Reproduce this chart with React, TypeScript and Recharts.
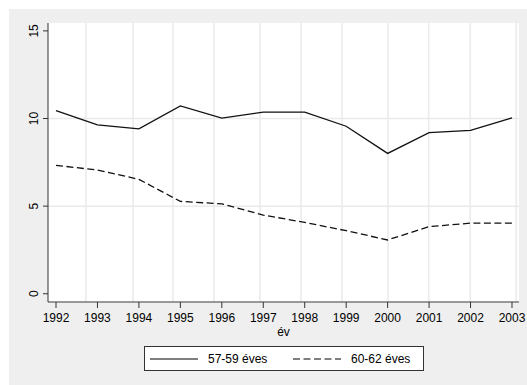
import React from "react";
import { LineChart, Line, XAxis, YAxis, ReferenceLine, Legend } from "recharts";

const years = [1992, 1993, 1994, 1995, 1996, 1997, 1998, 1999, 2000, 2001, 2002, 2003];
const age5759 = [10.45, 9.64, 9.41, 10.72, 10.02, 10.36, 10.36, 9.56, 8.01, 9.19, 9.32, 10.04];
const age6062 = [7.33, 7.06, 6.53, 5.27, 5.13, 4.49, 4.07, 3.6, 3.07, 3.83, 4.03, 4.03];
const yTicks = [0, 5, 10, 15];
const yGrid = [5, 10];
const xGrid = [1992.72, 1993.86, 1994.82, 1995.81, 1996.92, 1997.91, 1998.9, 2000.01, 2000.99, 2001.99, 2003.1];

const data = years.map((y, i) => ({ year: y, a: age5759[i], b: age6062[i] }));

const FONT = '"Liberation Sans", Arial, sans-serif';
const GRID = "#eaeaea";
const AXIS = "#333333";

function YTick(props: any) {
  const { y, payload } = props;
  return (
    <text
      x={30}
      y={y}
      transform={`rotate(-90, 30, ${y})`}
      textAnchor="middle"
      fontSize={12}
      fill="#000"
      fontFamily={FONT}
    >
      {payload.value}
    </text>
  );
}

function XTick(props: any) {
  const { x, y, payload } = props;
  return (
    <text x={x} y={y} dy="0.71em" textAnchor="middle" fontSize={12} fill="#000" fontFamily={FONT}>
      {payload.value}
    </text>
  );
}

function LegendBox() {
  const row = (left: number, dash: string | undefined, label: string) => (
    <div style={{ position: "absolute", left, top: 0, height: 23, display: "flex", alignItems: "center", whiteSpace: "nowrap" }}>
      <svg width={48} height={4} style={{ marginRight: 10 }}>
        <line x1={0} y1={2} x2={48} y2={2} stroke="#000" strokeWidth={1.2} strokeDasharray={dash} />
      </svg>
      <span>{label}</span>
    </div>
  );
  return (
    <div
      style={{
        position: "relative",
        boxSizing: "border-box",
        width: 280,
        height: 25,
        border: "1px solid #333",
        background: "#fff",
        fontSize: 12,
        fontFamily: FONT,
        color: "#000",
      }}
    >
      {row(5, undefined, "57-59 éves")}
      {row(148, "7 3.5", "60-62 éves")}
    </div>
  );
}

export default function App() {
  return (
    <div style={{ position: "fixed", left: 8, top: 8, width: 519, height: 377, fontFamily: FONT }}>
      <div style={{ position: "absolute", left: 1, top: 1, right: 0, bottom: 0, background: "#efefef" }} />
      <div style={{ position: "absolute", left: 40, top: 15, width: 471, height: 280, background: "#fff" }} />
      <LineChart
        width={519}
        height={377}
        data={data}
        margin={{ top: 15, right: 8, left: 0, bottom: 14 }}
        style={{ position: "absolute", left: 0, top: 0 }}
      >
        <XAxis
          dataKey="year"
          type="number"
          domain={[1991.807, 2003.169]}
          ticks={years}
          interval={0}
          height={44}
          tickSize={6}
          tickMargin={5}
          stroke={AXIS}
          tick={<XTick />}
          label={{ value: "év", position: "insideBottom", offset: 10, fontSize: 12, fill: "#000", fontFamily: FONT }}
        />
        <YAxis
          type="number"
          domain={[-0.47, 15.45]}
          ticks={yTicks}
          width={40}
          tickSize={5}
          stroke={AXIS}
          tick={<YTick />}
        />
        {yGrid.map((v) => (
          <ReferenceLine key={"h" + v} y={v} stroke={GRID} strokeWidth={1.5} />
        ))}
        {xGrid.map((v) => (
          <ReferenceLine key={"v" + v} x={v} stroke={GRID} strokeWidth={1.5} />
        ))}
        <Legend
          verticalAlign="bottom"
          content={() => <LegendBox />}
          wrapperStyle={{ left: 136, bottom: 14, width: 280, height: 25 }}
        />
        <Line
          dataKey="a"
          name="57-59 éves"
          stroke="#111"
          strokeWidth={1.3}
          dot={false}
          type="linear"
          isAnimationActive={false}
        />
        <Line
          dataKey="b"
          name="60-62 éves"
          stroke="#111"
          strokeWidth={1.3}
          strokeDasharray="7 3.5"
          dot={false}
          type="linear"
          isAnimationActive={false}
        />
      </LineChart>
    </div>
  );
}
